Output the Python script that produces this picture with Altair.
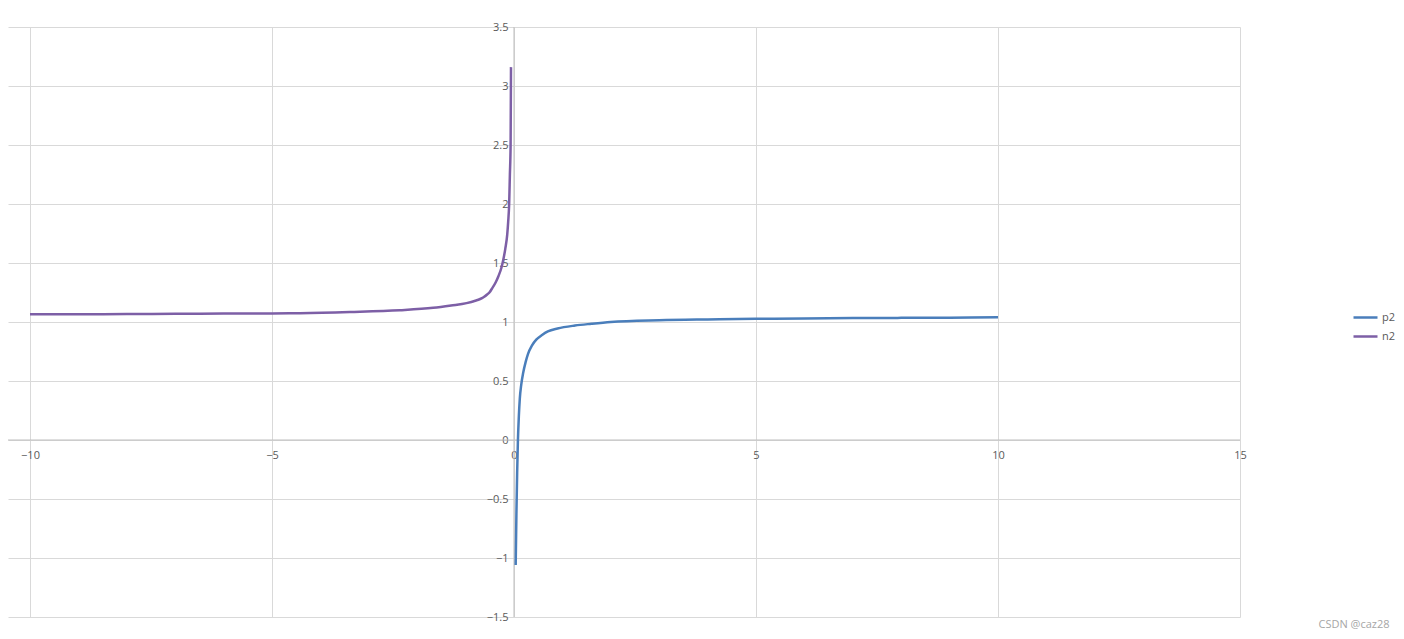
import altair as alt
import pandas as pd

# ---- data ----
p2_x = [0.035, 0.05, 0.065, 0.08, 0.10, 0.12, 0.15, 0.19, 0.24, 0.29, 0.37, 0.46, 0.58, 0.7, 0.9,
        1.26, 1.6, 2.0, 3.0, 4.0, 5.0, 6.0, 7.0, 8.0, 9.0, 10.0]
p2_y = [-1.06, -0.62, -0.28, -0.02, 0.20, 0.35, 0.47, 0.57, 0.66, 0.73, 0.80, 0.85, 0.89, 0.92,
        0.945, 0.97, 0.985, 1.0, 1.015, 1.022, 1.027, 1.030, 1.033, 1.035, 1.037, 1.04]

n2_x = [-10, -9, -8, -7, -6, -5, -4.42, -3.39, -2.36, -1.67, -1.3, -0.98, -0.8, -0.7, -0.63,
        -0.55, -0.5, -0.46, -0.38, -0.32, -0.26, -0.22, -0.18, -0.14, -0.12, -0.1, -0.085,
        -0.07, -0.062]
n2_y = [1.065, 1.066, 1.067, 1.069, 1.071, 1.073, 1.075, 1.085, 1.10, 1.12, 1.14, 1.16, 1.18,
        1.195, 1.21, 1.235, 1.255, 1.28, 1.335, 1.39, 1.46, 1.53, 1.62, 1.74, 1.85, 2.0, 2.25,
        2.5, 3.16]

series_names = ["p2", "n2"]
series_colors = ["#4a7ebb", "#7d5fa6"]

x_ticks = [-10, -5, 0, 5, 10, 15]
y_ticks = [-1.5, -1, -0.5, 0, 0.5, 1, 1.5, 2, 2.5, 3, 3.5]

df = pd.concat([
    pd.DataFrame({"x": p2_x, "y": p2_y, "s": "p2"}),
    pd.DataFrame({"x": n2_x, "y": n2_y, "s": "n2"}),
], ignore_index=True)

W, H = 1232, 590
x_dom = [-10.4545, 15]
y_dom = [-1.5, 3.5]
x_off = -506   # places the y axis labels at x = 0
y_off = -177   # places the x axis labels at y = 0

FONT = "Open Sans"
LABEL_COLOR = "#595959"
AXIS_COLOR = "#bfbfbf"

x_scale = alt.Scale(domain=x_dom, nice=False, zero=False)
y_scale = alt.Scale(domain=y_dom, nice=False, zero=False)

lines = alt.Chart(df).mark_line(strokeWidth=2.5, interpolate="monotone").encode(
    x=alt.X("x:Q", scale=x_scale,
            axis=alt.Axis(values=x_ticks, title=None, offset=y_off, grid=True, format="~g",
                          gridColor="#d9d9d9", domain=False, ticks=False,
                          labelPadding=9, labelFont=FONT, labelFontSize=11,
                          labelColor=LABEL_COLOR, labelFlush=False, labelOverlap=False)),
    y=alt.Y("y:Q", scale=y_scale,
            axis=alt.Axis(values=y_ticks, title=None, offset=x_off, grid=True, format="~g",
                          gridColor="#d9d9d9", domain=False, ticks=False,
                          labelPadding=6, labelFont=FONT, labelFontSize=11,
                          labelColor=LABEL_COLOR, labelFlush=False, labelOverlap=False)),
    color=alt.Color("s:N", scale=alt.Scale(domain=series_names, range=series_colors),
                    legend=alt.Legend(title=None, orient="none", legendX=1344, legendY=277,
                                      symbolType="stroke", symbolSize=576, symbolStrokeWidth=2.5,
                                      rowPadding=-7, labelOffset=3, padding=0,
                                      labelFont=FONT, labelFontSize=11, labelColor=LABEL_COLOR)),
    order=alt.Order("x:Q"),
)

# axis lines through the origin
zero_df = pd.DataFrame({"z": [0]})
y_axis_line = alt.Chart(zero_df).mark_rule(color=AXIS_COLOR, strokeWidth=1).encode(
    x=alt.X("z:Q", scale=x_scale), y=alt.value(0), y2=alt.value(H))
x_axis_line = alt.Chart(zero_df).mark_rule(color=AXIS_COLOR, strokeWidth=1).encode(
    y=alt.Y("z:Q", scale=y_scale), x=alt.value(0), x2=alt.value(W))

watermark = alt.Chart(pd.DataFrame({"t": ["CSDN @caz28"]})).mark_text(
    font=FONT, fontSize=11, color="#a6a6a6", align="center", baseline="middle"
).encode(text="t:N", x=alt.value(1346), y=alt.value(598))

chart = alt.layer(y_axis_line, x_axis_line, lines, watermark).properties(
    width=W, height=H,
    background="white",
    autosize=alt.AutoSizeParams(type="none"),
    padding={"top": 19, "left": 0, "right": 156, "bottom": 20},
).configure_view(stroke=None)

chart.save("out.html", embed_options={"renderer": "svg", "actions": False})
